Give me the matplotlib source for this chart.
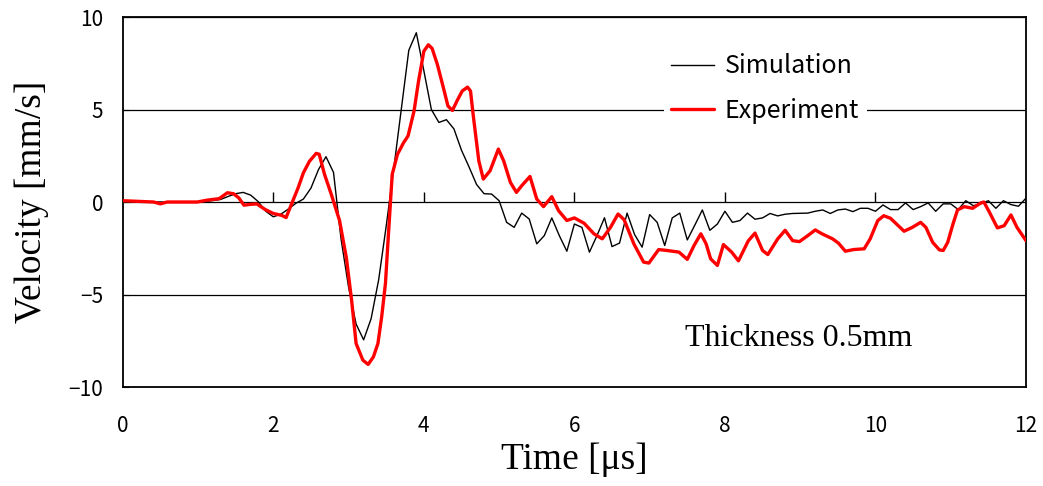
import matplotlib
matplotlib.use("Agg")
import matplotlib.pyplot as plt
import numpy as np

# Simulation: sampled every 0.1 us from 0 to 12
sim_t = [round(0.1 * i, 1) for i in range(121)]
sim_v = [0, 0, 0, 0, 0, 0, 0, 0, 0, 0,
         0.0, 0.03, 0.08, 0.14, 0.30, 0.45, 0.52, 0.37, 0.02, -0.50,
         -0.80, -0.66, -0.38, -0.07, 0.16, 0.75, 1.75, 2.45, 1.60, -2.00,
         -4.60, -6.60, -7.45, -6.30, -4.20, -1.30, 1.80, 5.00, 8.20, 9.15,
         7.10, 5.00, 4.30, 4.45, 3.95, 2.80, 1.90, 0.95, 0.45, 0.43,
         0.07, -1.10, -1.37, -0.60, -0.92, -2.26, -1.82, -0.86, -1.82, -2.66,
         -1.19, -1.37, -2.71, -1.82, -0.85, -2.41, -2.22, -0.60, -1.76, -2.44,
         -0.68, -1.10, -2.35, -0.86, -0.60, -2.05, -1.25, -0.43, -1.53, -1.19,
         -0.50, -1.10, -1.00, -0.60, -0.93, -0.86, -0.62, -0.75, -0.66, -0.62,
         -0.61, -0.60, -0.50, -0.43, -0.62, -0.43, -0.38, -0.52, -0.34, -0.34,
         -0.50, -0.16, -0.41, -0.41, -0.05, -0.41, -0.25, -0.05, -0.50, -0.10,
         -0.10, -0.41, 0.07, -0.20, -0.10, 0.07, -0.34, 0.07, -0.14, -0.23,
         0.21]

# Experiment: points
exp_t = [0.00, 0.41, 0.50, 0.59, 0.99, 1.12, 1.28, 1.39, 1.47, 1.54,
         1.61, 1.69, 1.78, 1.89, 2.00, 2.11, 2.17, 2.24, 2.33, 2.40,
         2.48, 2.57, 2.61, 2.68, 2.77, 2.88, 2.97, 3.04, 3.10, 3.19,
         3.26, 3.33, 3.39, 3.44, 3.49, 3.53, 3.58, 3.65, 3.73, 3.79,
         3.87, 3.93, 4.00, 4.06, 4.11, 4.18, 4.26, 4.32, 4.38, 4.44,
         4.51, 4.58, 4.62, 4.66, 4.73, 4.79, 4.88, 4.99, 5.06, 5.15,
         5.23, 5.30, 5.41, 5.50, 5.59, 5.70, 5.79, 5.90, 6.00, 6.13,
         6.26, 6.37, 6.48, 6.58, 6.66, 6.79, 6.92, 6.99, 7.12, 7.23,
         7.39, 7.50, 7.59, 7.68, 7.75, 7.81, 7.90, 7.98, 8.09, 8.18,
         8.31, 8.40, 8.50, 8.57, 8.70, 8.80, 8.90, 8.99, 9.10, 9.20,
         9.29, 9.43, 9.51, 9.60, 9.71, 9.85, 9.93, 10.03, 10.11, 10.20,
         10.38, 10.49, 10.60, 10.67, 10.76, 10.85, 10.90, 10.96, 11.03, 11.09,
         11.18, 11.29, 11.40, 11.44, 11.51, 11.62, 11.71, 11.80, 11.88, 12.00]
exp_v = [0.07, 0.00, -0.10, 0.00, 0.00, 0.10, 0.18, 0.50, 0.45, 0.23,
         -0.17, -0.13, -0.10, -0.40, -0.62, -0.72, -0.84, -0.13, 0.77, 1.58,
         2.20, 2.63, 2.58, 1.50, 0.42, -1.00, -3.00, -5.30, -7.65, -8.55,
         -8.78, -8.37, -7.65, -6.20, -4.40, -1.72, 1.50, 2.58, 3.20, 3.57,
         4.92, 6.54, 8.15, 8.50, 8.30, 7.43, 6.17, 5.19, 4.95, 5.46,
         6.00, 6.21, 6.00, 4.56, 2.23, 1.24, 1.69, 2.86, 2.23, 1.06,
         0.52, 0.88, 1.38, 0.16, -0.25, 0.29, -0.47, -1.00, -0.86, -1.15,
         -1.72, -1.99, -1.37, -0.65, -0.95, -2.26, -3.25, -3.30, -2.57, -2.62,
         -2.71, -3.10, -2.35, -1.72, -2.26, -3.07, -3.43, -2.30, -2.71, -3.18,
         -2.10, -1.68, -2.62, -2.84, -2.00, -1.53, -2.09, -2.14, -1.82, -1.51,
         -1.72, -1.99, -2.23, -2.66, -2.57, -2.53, -1.99, -1.01, -0.74, -0.88,
         -1.58, -1.37, -1.10, -1.37, -2.18, -2.59, -2.62, -2.18, -1.19, -0.43,
         -0.25, -0.34, -0.05, 0.00, -0.52, -1.40, -1.28, -0.70, -1.37, -2.09]

x_ticks = [0, 2, 4, 6, 8, 10, 12]
y_ticks = [-10, -5, 0, 5, 10]

tick_font = ["Noto Sans CJK JP", "DejaVu Sans"]
serif_font = ["Liberation Serif", "DejaVu Serif"]

fig = plt.figure(figsize=(10.43, 4.86), dpi=100)
ax = fig.add_axes([0.1177, 0.2037, 0.866, 0.7613])

ax.plot(sim_t, sim_v, color="black", lw=1.0, label="Simulation", zorder=3)
ax.plot(exp_t, exp_v, color="#ff0000", lw=2.4, label="Experiment", zorder=4,
        solid_joinstyle="round", solid_capstyle="round")

ax.set_xlim(0, 12)
ax.set_ylim(-10, 10)
ax.set_xticks(x_ticks)
ax.set_yticks(y_ticks)
ax.yaxis.grid(True, color="black", lw=0.9)
ax.set_axisbelow(True)
ax.tick_params(axis="x", length=0, pad=20)
ax.tick_params(axis="y", direction="in", length=4, pad=14)
for lab in ax.get_xticklabels() + ax.get_yticklabels():
    lab.set_family(tick_font)
    lab.set_fontsize(15)
for sp in ax.spines.values():
    sp.set_linewidth(1.3)

# tick marks on the zero line
sec = ax.secondary_xaxis(0.5)
sec.set_xticks([2, 4, 6, 8, 10])
sec.tick_params(axis="x", direction="out", length=7, width=1.0, labeltop=False, labelbottom=False)
for sp in sec.spines.values():
    sp.set_visible(False)

ax.set_xlabel("Time [μs]", family=serif_font, fontsize=27, labelpad=4)
ax.set_ylabel("Velocity [mm/s]", family=serif_font, fontsize=27, labelpad=14)

leg = ax.legend(loc="upper left", bbox_to_anchor=(0.585, 0.956), frameon=True,
                facecolor="white", edgecolor="none", framealpha=1,
                fancybox=False, handlelength=1.7, handletextpad=0.45,
                labelspacing=0.75, borderpad=0.3,
                prop={"family": tick_font, "size": 18})

ax.text(7.47, -7.37, "Thickness 0.5mm", family=serif_font, fontsize=23,
        ha="left", va="center")

fig.savefig("out.png", dpi=100)
